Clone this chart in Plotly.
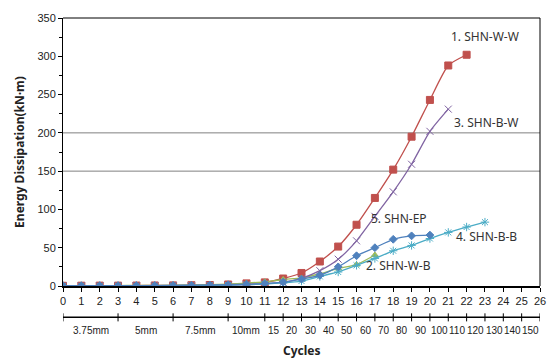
import plotly.graph_objects as go

cycles = list(range(0, 27))
ww = [0.3, 0.4, 0.5, 0.5, 0.6, 0.7, 0.8, 1.0, 1.3, 2.0, 3.4, 4.7, 9.8, 17, 32, 51.5, 80, 115, 152, 195, 243, 288, 302]
wb = [0.3, 0.4, 0.5, 0.6, 0.7, 0.8, 1.0, 1.3, 1.7, 2.5, 3.8, 5.5, 8.5, 10.5, 16, 23, 28, 40.5]
bw = [0.2, 0.3, 0.3, 0.4, 0.4, 0.5, 0.6, 0.7, 0.9, 1.2, 1.8, 2.8, 5, 10, 20, 35, 59, 91, 123, 159, 202, 231]
bb = [0.2, 0.3, 0.3, 0.4, 0.4, 0.5, 0.6, 0.7, 0.9, 1.2, 1.8, 2.5, 4, 6.5, 12.5, 18.3, 27, 36, 46, 53, 62, 70, 77, 83.4]
ep = [0.3, 0.3, 0.4, 0.4, 0.5, 0.6, 0.7, 0.9, 1.2, 1.6, 2.3, 3.2, 5, 9, 14, 25, 39.5, 50, 61, 65.5, 66.5]

series = [
    ("1. SHN-W-W", ww, "#C0504D", "square", 7, (23.0, 326)),
    ("2. SHN-W-B", wb, "#9BBB59", "triangle-up", 6, (18.3, 27)),
    ("3. SHN-B-W", bw, "#8064A2", "x-thin-open", 7, (23.1, 214)),
    ("4. SHN-B-B", bb, "#4BACC6", "asterisk-open", 7, (23.1, 64)),
    ("5. SHN-EP", ep, "#4F81BD", "diamond", 6, (18.3, 88)),
]

seg_bounds = [0, 3, 6, 9, 11, 12, 13, 14, 15, 16, 17, 18, 19, 20, 21, 22, 23, 24, 25, 26]
seg_labels = ["3.75mm", "5mm", "7.5mm", "10mm", "15", "20", "30", "40", "50", "60",
              "70", "80", "90", "100", "110", "120", "130", "140", "150"]

fig = go.Figure()
for name, vals, color, sym, size, _ in series:
    fig.add_trace(go.Scatter(
        x=cycles[:len(vals)], y=vals, mode="lines+markers", name=name,
        line=dict(color=color, width=1.3, shape="spline", smoothing=0.6),
        marker=dict(symbol=sym, size=size, color=color,
                    line=dict(color=color, width=1)),
        showlegend=False))

annos = []
for name, vals, color, sym, size, (ax, ay) in series:
    annos.append(dict(x=ax, y=ay, xref="x", yref="y", text=name, showarrow=False,
                      xanchor="center", yanchor="middle",
                      font=dict(family="Noto Sans", size=12, color="#333333")))

# displacement bracket row
bracket_y = -0.117
shapes = [dict(type="line", xref="x", yref="paper", x0=seg_bounds[0], x1=seg_bounds[-1],
               y0=bracket_y, y1=bracket_y, line=dict(color="black", width=1.5))]
for b in seg_bounds:
    shapes.append(dict(type="line", xref="x", yref="paper", x0=b, x1=b,
                       y0=bracket_y - 0.015, y1=bracket_y + 0.015,
                       line=dict(color="black", width=1)))
for i, lab in enumerate(seg_labels):
    mid = (seg_bounds[i] + seg_bounds[i + 1]) / 2
    annos.append(dict(x=mid, y=-0.165, xref="x", yref="paper", text=lab, showarrow=False,
                      xanchor="center", yanchor="middle",
                      font=dict(family="Liberation Sans Narrow, Liberation Sans", size=10, color="#222222")))

# arrowheads on the bracket row
arr_y = -40.9
left_x = [b + 0.17 for b in seg_bounds[:-1]]
right_x = [b - 0.17 for b in seg_bounds[1:]]
fig.add_trace(go.Scatter(x=left_x, y=[arr_y] * len(left_x), mode="markers", cliponaxis=False,
                         marker=dict(symbol="triangle-left", size=5, color="black"),
                         showlegend=False, hoverinfo="skip"))
fig.add_trace(go.Scatter(x=right_x, y=[arr_y] * len(right_x), mode="markers", cliponaxis=False,
                         marker=dict(symbol="triangle-right", size=5, color="black"),
                         showlegend=False, hoverinfo="skip"))

# gridlines at 150 and 200, frame
for gy in (150, 200):
    shapes.append(dict(type="line", xref="paper", yref="y", x0=0, x1=1, y0=gy, y1=gy,
                       line=dict(color="#808080", width=1), layer="below"))
shapes.append(dict(type="line", xref="paper", yref="paper", x0=0, x1=1, y0=1, y1=1,
                   line=dict(color="black", width=1)))
shapes.append(dict(type="line", xref="paper", yref="paper", x0=1, x1=1, y0=0, y1=1,
                   line=dict(color="black", width=1)))

annos.append(dict(x=0.5, y=-0.241, xref="paper", yref="paper", text="<b>Cycles</b>", showarrow=False,
                  xanchor="center", yanchor="middle",
                  font=dict(family="Noto Sans", size=12, color="#222222")))

fig.update_layout(
    width=558, height=362,
    margin=dict(l=63, r=12, t=12, b=76),
    paper_bgcolor="white", plot_bgcolor="white",
    shapes=shapes, annotations=annos,
    xaxis=dict(range=[0, 26], tickmode="array", tickvals=cycles,
               ticktext=[str(c) for c in cycles], ticks="outside", ticklen=4,
               tickcolor="black", showgrid=False, zeroline=False,
               showline=True, linecolor="black", linewidth=2,
               tickfont=dict(family="Liberation Sans Narrow, Liberation Sans", size=11, color="#222222")),
    yaxis=dict(range=[0, 350], tickvals=list(range(0, 351, 50)), ticks="outside", ticklen=4,
               tickcolor="black", showgrid=False, zeroline=False,
               showline=True, linecolor="black", linewidth=1,
               minor=dict(tickvals=list(range(25, 350, 50)), ticks="outside", ticklen=3, tickcolor="black"),
               tickfont=dict(family="Liberation Sans Narrow, Liberation Sans", size=11, color="#222222"),
               title=dict(text="<b>Energy Dissipation(kN·m)</b>", standoff=10,
                          font=dict(family="Noto Sans", size=12, color="#222222"))),
)

fig.write_html("out.html")
